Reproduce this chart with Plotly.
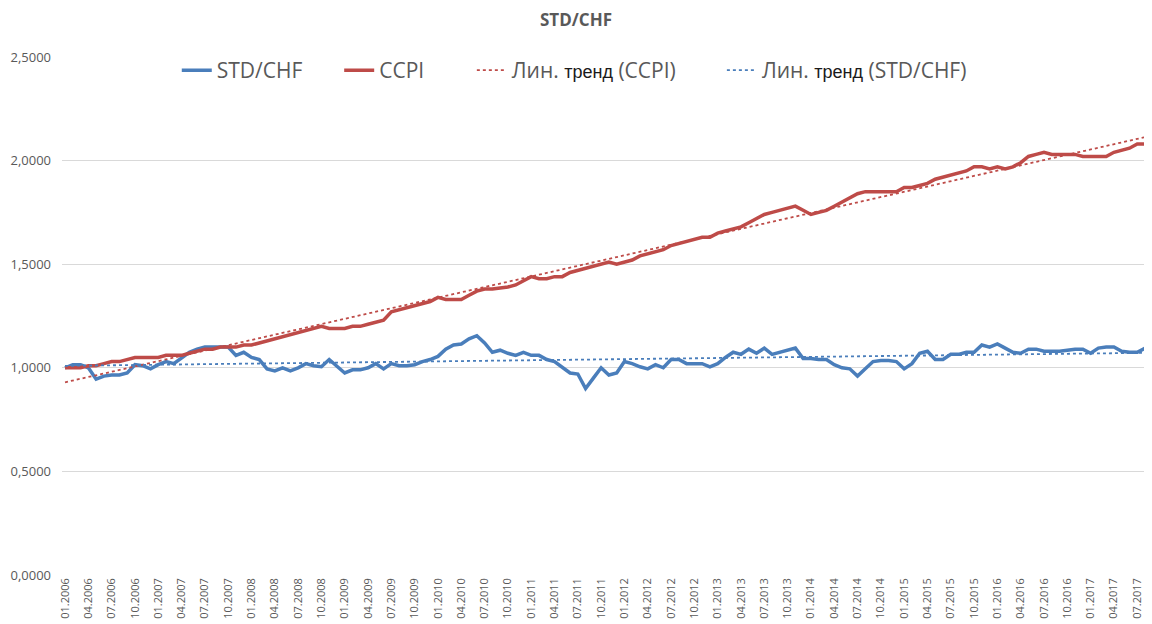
import numpy as np
import plotly.graph_objects as go

# Monthly data 01.2006 .. 09.2017
months = [f"{m:02d}.{y}" for y in range(2006, 2018) for m in range(1, 13)][:141]

std_chf = [
    1.000, 1.015, 1.015, 1.000, 0.945, 0.960, 0.965, 0.965, 0.975, 1.015,
    1.010, 0.995, 1.015, 1.030, 1.020, 1.050, 1.075, 1.090, 1.100, 1.100,
    1.100, 1.100, 1.060, 1.075, 1.050, 1.040, 0.995, 0.985, 1.000, 0.985,
    1.000, 1.020, 1.010, 1.005, 1.040, 1.005, 0.975, 0.990, 0.990, 1.000,
    1.020, 0.995, 1.020, 1.010, 1.010, 1.015, 1.030, 1.040, 1.055, 1.090,
    1.110, 1.115, 1.140, 1.155, 1.120, 1.075, 1.085, 1.070, 1.060, 1.075,
    1.060, 1.060, 1.040, 1.030, 1.000, 0.975, 0.970, 0.900, 0.950, 1.000,
    0.965, 0.975, 1.030, 1.020, 1.005, 0.995, 1.015, 1.000, 1.040, 1.040,
    1.020, 1.020, 1.020, 1.005, 1.020, 1.050, 1.075, 1.065, 1.090, 1.070,
    1.095, 1.065, 1.075, 1.085, 1.095, 1.045, 1.045, 1.040, 1.040, 1.015,
    1.000, 0.995, 0.960, 0.995, 1.030, 1.035, 1.035, 1.030, 0.995, 1.020,
    1.070, 1.080, 1.040, 1.040, 1.065, 1.065, 1.075, 1.075, 1.110, 1.100,
    1.115, 1.095, 1.075, 1.070, 1.090, 1.090, 1.080, 1.080, 1.080, 1.085,
    1.090, 1.090, 1.070, 1.095, 1.100, 1.100, 1.080, 1.075, 1.075, 1.095,
    1.080,
]

ccpi = [
    1.00, 1.00, 1.00, 1.01, 1.01, 1.02, 1.03, 1.03, 1.04, 1.05,
    1.05, 1.05, 1.05, 1.06, 1.06, 1.06, 1.07, 1.08, 1.09, 1.09,
    1.10, 1.10, 1.10, 1.11, 1.11, 1.12, 1.13, 1.14, 1.15, 1.16,
    1.17, 1.18, 1.19, 1.20, 1.19, 1.19, 1.19, 1.20, 1.20, 1.21,
    1.22, 1.23, 1.27, 1.28, 1.29, 1.30, 1.31, 1.32, 1.34, 1.33,
    1.33, 1.33, 1.35, 1.37, 1.38, 1.38, 1.385, 1.39, 1.40, 1.42,
    1.44, 1.43, 1.43, 1.44, 1.44, 1.46, 1.47, 1.48, 1.49, 1.50,
    1.51, 1.50, 1.51, 1.52, 1.54, 1.55, 1.56, 1.57, 1.59, 1.60,
    1.61, 1.62, 1.63, 1.63, 1.65, 1.66, 1.67, 1.68, 1.70, 1.72,
    1.74, 1.75, 1.76, 1.77, 1.78, 1.76, 1.74, 1.75, 1.76, 1.78,
    1.80, 1.82, 1.84, 1.85, 1.85, 1.85, 1.85, 1.85, 1.87, 1.87,
    1.88, 1.89, 1.91, 1.92, 1.93, 1.94, 1.95, 1.97, 1.97, 1.96,
    1.97, 1.96, 1.97, 1.99, 2.02, 2.03, 2.04, 2.03, 2.03, 2.03,
    2.03, 2.02, 2.02, 2.02, 2.02, 2.04, 2.05, 2.06, 2.08, 2.08,
    2.09,
]

tick_idx = list(range(0, 139, 3))
tick_text = [months[i] for i in tick_idx]
y_ticks = [0, 0.5, 1.0, 1.5, 2.0, 2.5]

x = np.arange(len(months))
ccpi_fit = np.polyval(np.polyfit(x, ccpi, 1), x)
std_fit = np.polyval(np.polyfit(x, std_chf, 1), x)

BLUE = "#4A7EBB"
RED = "#BE4B48"
GREY = "#595959"
TR = "<span style='font-family:Liberation Sans;color:#1a1a1a;font-size:18px'>тренд</span>"

fig = go.Figure()
fig.add_trace(go.Scatter(x=x, y=std_chf, mode="lines", name="STD/CHF", legend="legend",
                         line=dict(color=BLUE, width=3.5)))
fig.add_trace(go.Scatter(x=x, y=ccpi, mode="lines", name="CCPI", legend="legend2",
                         line=dict(color=RED, width=3.5)))
fig.add_trace(go.Scatter(x=x, y=ccpi_fit, mode="lines", name=f"Лин. {TR} (CCPI)",
                         legend="legend3", line=dict(color=RED, width=1.8, dash="dot")))
fig.add_trace(go.Scatter(x=x, y=std_fit, mode="lines", name=f"Лин. {TR} (STD/CHF)",
                         legend="legend4", line=dict(color=BLUE, width=1.8, dash="dot")))

def leg(xpos):
    return dict(orientation="h", x=xpos, xanchor="left", y=1.0135, yanchor="top",
                bgcolor="rgba(0,0,0,0)", font=dict(size=21, color=GREY))

# the page body adds an 8px offset; margins compensate for it
fig.update_layout(
    width=1152, height=624,
    margin=dict(l=54, r=8, t=49, b=57),
    paper_bgcolor="white", plot_bgcolor="white",
    separators=", ",
    font=dict(family="Open Sans", color=GREY),
    title=dict(text="<b>STD/CHF</b>", x=(576 - 8) / 1152, xanchor="center",
               y=1 - 12 / 624, yanchor="middle", yref="container",
               font=dict(size=17, color=GREY, family="Open Sans")),
    legend=leg(0.1053), legend2=leg(0.2543), legend3=leg(0.376), legend4=leg(0.6054),
    showlegend=True,
)
fig.update_xaxes(range=[-0.39, 139.9], tickmode="array", tickvals=tick_idx,
                 ticktext=tick_text, tickangle=-90, showgrid=False, zeroline=False,
                 showline=False, ticks="", tickfont=dict(size=11, color=GREY),
                 automargin=False)
fig.update_yaxes(range=[0, 2.5], tickmode="array", tickvals=y_ticks, tickformat=".4f",
                 showgrid=True, gridcolor="#D9D9D9", gridwidth=1, zeroline=False,
                 showline=False, ticks="", tickfont=dict(size=13, color=GREY),
                 automargin=False, ticklabelstandoff=10)

fig.write_html("out.html")
